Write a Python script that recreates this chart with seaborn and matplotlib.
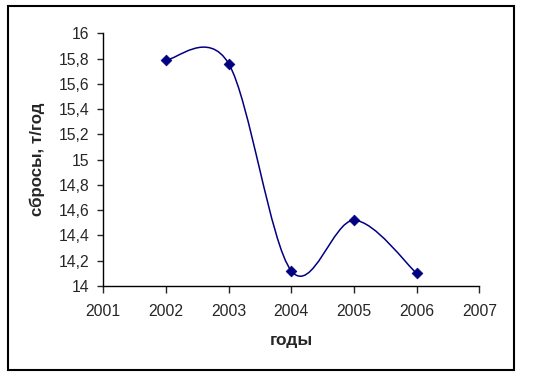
import numpy as np
import pandas as pd
import matplotlib
matplotlib.use("Agg")
import matplotlib.pyplot as plt
from matplotlib.path import Path
from matplotlib.patches import PathPatch, Rectangle
from matplotlib.ticker import FuncFormatter, MultipleLocator
import seaborn as sns

# data
years = [2002, 2003, 2004, 2005, 2006]
discharges = [15.79, 15.76, 14.12, 14.52, 14.10]

df = pd.DataFrame({"year": years, "value": discharges})

sns.set_style("white")
plt.rcParams["font.family"] = ["Liberation Sans", "DejaVu Sans"]

fig = plt.figure(figsize=(5.53, 3.77), dpi=100)
ax = fig.add_axes([0.1868, 0.2414, 0.68, 0.6703])

# smooth line like excel: bezier through the points (catmull-rom control points)
pts = df[["year", "value"]].to_numpy(dtype=float)
verts = [tuple(pts[0])]
codes = [Path.MOVETO]
n = len(pts)
for i in range(n - 1):
    p0 = pts[i - 1] if i > 0 else pts[i]
    p1 = pts[i]
    p2 = pts[i + 1]
    p3 = pts[i + 2] if i + 2 < n else pts[i + 1]
    c1 = p1 + (p2 - p0) / 6
    c2 = p2 - (p3 - p1) / 6
    verts += [tuple(c1), tuple(c2), tuple(p2)]
    codes += [Path.CURVE4] * 3
ax.add_patch(PathPatch(Path(verts, codes), facecolor="none", edgecolor="#000080", lw=1.1))

sns.scatterplot(data=df, x="year", y="value", marker="D", s=30, color="#000080",
                edgecolor="#000080", linewidth=0.5, ax=ax, zorder=3)

ax.set_xlim(2001, 2007)
ax.set_ylim(14, 16)
ax.xaxis.set_major_locator(MultipleLocator(1))
ax.yaxis.set_major_locator(MultipleLocator(0.2))
ax.yaxis.set_major_formatter(FuncFormatter(lambda v, p: f"{round(v, 1):g}".replace(".", ",")))

for s in ["top", "right"]:
    ax.spines[s].set_visible(False)
for s in ["left", "bottom"]:
    ax.spines[s].set_color("black")
    ax.spines[s].set_linewidth(1.0)

ax.tick_params(axis="y", direction="out", length=4, width=1, pad=6, labelsize=11.3, left=True)
ax.tick_params(axis="x", direction="out", length=5, width=1, pad=8, labelsize=11.3, bottom=True)

ax.set_xlabel("годы", fontsize=12.5, fontweight="bold", labelpad=10)
ax.set_ylabel("сбросы, т/год", fontsize=12.2, fontweight="bold", labelpad=10)

# outer chart frame
fig.patches.append(Rectangle((8 / 553, 1 - 370 / 377), 506 / 553, 364 / 377,
                             transform=fig.transFigure, fill=False,
                             edgecolor="black", lw=1.5))

fig.savefig("out.png", dpi=100)
